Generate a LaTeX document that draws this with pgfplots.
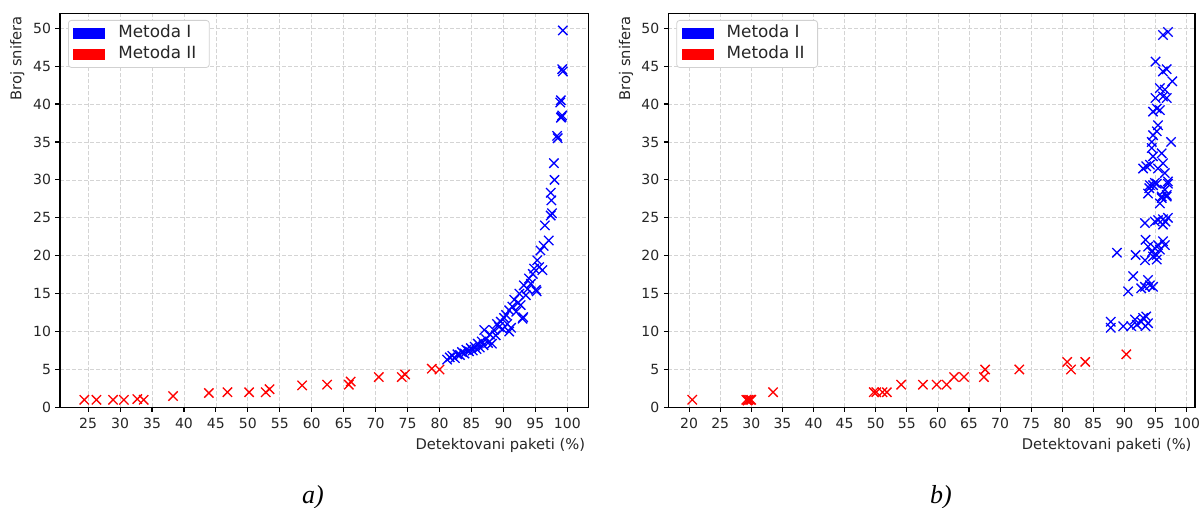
\documentclass[border=0pt]{standalone}
\usepackage{pgfplots}
\pgfplotsset{compat=1.18}
\usepackage{fontspec}
\setmainfont{DejaVu Sans}
\newfontfamily\capfont{Liberation Serif}
\definecolor{txt}{HTML}{262626}

\pgfplotsset{
  myax/.style={
    scale only axis,
    height=393.9pt,
    anchor=south west,
    ymin=0, ymax=51.94,
    ytick={0,5,...,50},
    grid=major,
    major grid style={dash pattern=on 4pt off 2pt, color=black!17, line width=0.7pt},
    axis line style={line width=1.3pt, black},
    tick align=outside, xtick pos=lower, ytick pos=left,
    major tick length=4.5pt,
    every tick/.style={black, line width=1.1pt},
    ticklabel style={font=\fontsize{14}{16}\selectfont, text=txt},
    xticklabel style={yshift=-2.5pt},
    yticklabel style={xshift=-1pt},
    /pgf/number format/assume math mode=true,
    clip=false,
    legend cell align=left,
    legend style={at={(0,1)}, anchor=north west, xshift=8pt, yshift=-6.5pt,
      draw=black!18, rounded corners=3pt, fill=white, line width=0.8pt,
      inner xsep=5pt, inner ysep=5.3pt, row sep=4.7pt,
      nodes={inner sep=0pt, text height=12.3pt, text depth=3.6pt},
      font=\fontsize{16.8}{19}\selectfont, text=txt},
    mI/.style={only marks, mark=x, mark size=6.6pt, color=blue, mark options={line width=1.3pt}},
    mII/.style={only marks, mark=x, mark size=6.6pt, color=red, mark options={line width=1.3pt}},
  },
  patchI/.style={legend image code/.code={\fill[blue, draw=none, sharp corners] (0pt,-5.5pt) rectangle (32pt,5.5pt); \path[draw=none, fill=none] (0pt,0pt) -- (45pt,0pt);}},
  patchII/.style={legend image code/.code={\fill[red, draw=none, sharp corners] (0pt,-5.5pt) rectangle (32pt,5.5pt); \path[draw=none, fill=none] (0pt,0pt) -- (45pt,0pt);}},
}

\begin{document}
\begin{tikzpicture}[x=1pt,y=1pt]
\useasboundingbox (0,0) rectangle (1200,508);

% ---------- a) ----------
\begin{axis}[myax, at={(60pt,100.6pt)}, width=528.7pt,
  xmin=20.6, xmax=103.35, xtick={25,30,...,100}]
\addlegendimage{patchI}\addlegendentry{Metoda I}
\addlegendimage{patchII}\addlegendentry{Metoda II\hspace*{8pt}}
\addplot[mII, forget plot] table {
24.4 1
26.3 1
28.9 1
30.6 1
32.7 1.1
33.7 1
38.3 1.5
43.9 1.9
46.8 2
50.2 2
52.8 2
53.4 2.4
58.5 2.9
62.4 3
65.8 3
66.1 3.4
70.5 4
74.1 4
74.6 4.35
78.8 5.1
80.0 5.0
};
\addplot[mI, forget plot] table {
81.2 6.3
81.6 6.6
82.0 6.8
82.4 6.5
82.8 7.0
83.2 6.9
83.5 7.3
83.9 7.1
84.2 7.6
84.6 7.4
84.9 7.8
85.2 7.5
85.5 8.0
85.8 7.7
86.0 8.4
86.3 7.9
86.6 8.7
86.9 8.2
87.0 10.2
87.3 9.0
87.6 8.5
87.9 9.6
88.2 8.4
88.5 10.2
88.8 9.5
89.0 11.0
89.3 10.6
89.6 11.3
89.9 10.3
90.1 11.8
90.4 12.2
90.6 11.0
90.9 12.8
90.9 10.0
91.2 10.5
91.4 13.3
91.7 14.2
92.0 12.6
92.3 13.8
92.5 15.0
92.7 13.5
93.0 11.7
93.1 11.9
93.2 16.1
93.5 14.8
93.8 15.6
94.0 17.0
94.3 16.3
94.6 17.6
94.8 18.3
95.1 15.5
95.2 15.3
95.3 19.4
95.6 18.5
95.8 20.7
96.1 18.1
96.3 21.3
96.5 24.0
97.1 22.0
97.4 25.3
97.6 25.6
97.5 27.3
97.4 28.3
98.0 30.0
97.9 32.2
98.4 35.8
98.5 35.5
99.0 38.2
99.2 38.5
99.1 38.3
98.9 40.2
99.0 40.5
99.2 44.6
99.3 44.3
99.3 49.7
};
\node[anchor=base east, font=\fontsize{14.7}{17}\selectfont, text=txt, yshift=-41.9pt] at (rel axis cs:1,0) {Detektovani paketi (\%)};
\node[xshift=-38.5pt, yshift=0.5pt, anchor=base east, rotate=90, font=\fontsize{14.7}{17}\selectfont, text=txt] at (rel axis cs:0,1) {Broj snifera};
\end{axis}

% ---------- b) ----------
\begin{axis}[myax, at={(668.3pt,100.6pt)}, width=526.7pt,
  xmin=16.65, xmax=101.35, xtick={20,25,...,100}]
\addlegendimage{patchI}\addlegendentry{Metoda I}
\addlegendimage{patchII}\addlegendentry{Metoda II\hspace*{8pt}}
\addplot[mII, forget plot] table {
20.5 1
29.2 1
29.5 1
29.8 1
29.4 0.9
30.0 1
33.5 2
49.7 2
50.1 2
51.1 2
51.8 2
54.1 3
57.6 3
59.8 3
61.4 3
62.6 4
64.2 4
67.4 4
67.6 5
73.1 5
80.8 6
81.4 5
83.7 6
90.3 7
};
\addplot[mI, forget plot] table {
87.8 11.3
87.8 10.5
89.8 10.7
91.1 10.7
91.7 11.6
92.0 10.9
92.7 11.3
93.0 11.8
93.5 12.0
93.8 11.1
93.4 10.7
88.8 20.4
90.6 15.3
91.4 17.3
91.8 20.1
92.7 15.7
93.3 15.9
93.8 16.8
94.1 16.1
94.6 15.9
93.4 22.1
93.8 21.2
93.3 19.4
94.4 20.5
94.6 19.9
94.9 21.0
95.2 20.1
95.4 21.4
95.7 20.8
96.2 21.9
96.5 21.4
95.2 19.5
93.3 24.3
94.9 24.5
95.4 24.7
96.2 24.8
96.6 24.5
97.0 25.0
96.2 24.1
93.8 28.2
94.0 28.9
94.6 29.3
95.2 29.5
95.7 26.9
96.0 27.6
96.8 28.0
97.0 29.5
96.2 49.1
97.0 49.5
95.0 45.6
96.2 44.3
96.8 44.6
97.7 43.0
95.7 42.1
96.5 41.9
96.2 41.0
96.8 40.8
95.0 40.8
94.6 39.0
95.2 39.4
95.7 39.2
95.4 37.2
95.2 36.4
94.6 35.9
94.4 35.0
97.5 35.0
94.4 34.2
94.6 33.1
94.1 32.0
93.5 31.8
93.0 31.5
96.0 33.5
96.2 32.2
95.4 31.5
96.5 30.9
97.0 29.8
94.1 29.3
94.9 29.6
96.5 28.7
96.8 27.8
96.0 27.8
};
\node[anchor=base east, font=\fontsize{14.7}{17}\selectfont, text=txt, yshift=-41.9pt] at (rel axis cs:1,0) {Detektovani paketi (\%)};
\node[xshift=-38.3pt, yshift=0.5pt, anchor=base east, rotate=90, font=\fontsize{14.7}{17}\selectfont, text=txt] at (rel axis cs:0,1) {Broj snifera};
\end{axis}

\node[anchor=base, font=\capfont\itshape\fontsize{26}{28}\selectfont] at (313,4.7) {a)};
\node[anchor=base, font=\capfont\itshape\fontsize{26}{28}\selectfont] at (941,4.7) {b)};
\end{tikzpicture}
\end{document}
